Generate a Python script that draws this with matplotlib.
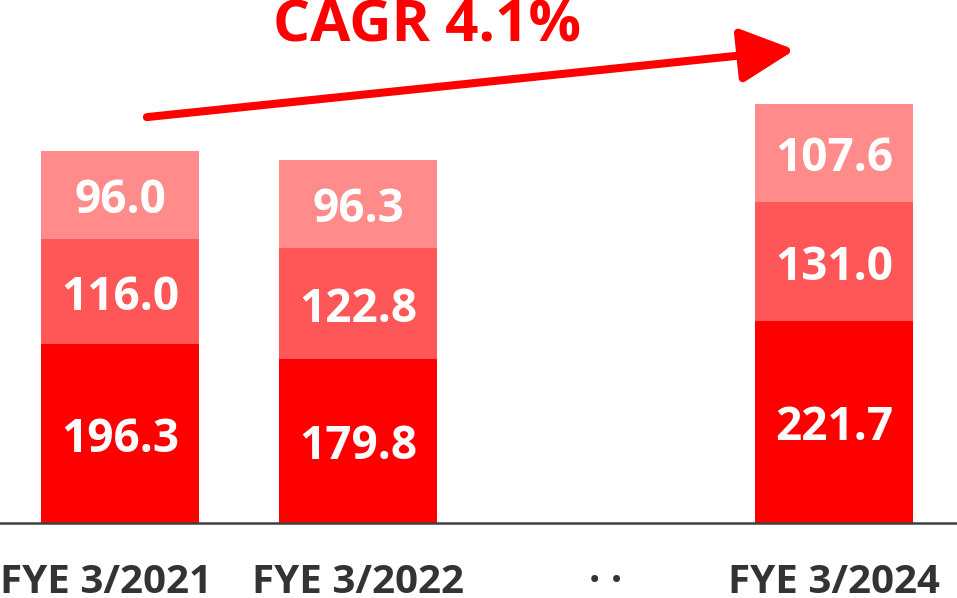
import matplotlib
matplotlib.use('Agg')
import matplotlib.pyplot as plt
import matplotlib.transforms as mtransforms
import numpy as np

# ==============================================================================
# data
# ==============================================================================
CATEGORIES = ['FYE 3/2021', 'FYE 3/2022', '· ·', 'FYE 3/2024']
BOTTOM_VALUES = [196.3, 179.8, np.nan, 221.7]
MIDDLE_VALUES = [116.0, 122.8, np.nan, 131.0]
TOP_VALUES = [96.0, 96.3, np.nan, 107.6]
CAGR_TEXT = 'CAGR 4.1%'

# ==============================================================================
# style
# ==============================================================================
FONT = ['Open Sans', 'DejaVu Sans']
COLORS = ['#FF0000', '#FF5757', '#FF8B8B']
TEXT_GRAY = '#333333'
BAR_WIDTH = 0.665

plt.rcParams['font.family'] = FONT
plt.rcParams['font.weight'] = 'bold'

fig = plt.figure(figsize=(9.57, 5.98), dpi=100)
ax = fig.add_axes([0, 0.1254, 1, 0.8746])

x = np.arange(len(CATEGORIES))
bottom = np.zeros(len(CATEGORIES))
for vals, color in zip([BOTTOM_VALUES, MIDDLE_VALUES, TOP_VALUES], COLORS):
    vals = np.array(vals, dtype=float)
    ax.bar(x, np.nan_to_num(vals), width=BAR_WIDTH, bottom=bottom,
           color=color, linewidth=0)
    for xi, v, b in zip(x, vals, bottom):
        if np.isnan(v):
            continue
        # baseline placed so the digits sit in the middle of the segment
        ax.annotate(f'{v:.1f}', xy=(xi, b + v / 2), xytext=(0, -13),
                    textcoords='offset points', ha='center', va='baseline',
                    color='white', fontsize=33, fontweight='bold')
    bottom = bottom + np.nan_to_num(vals)

ax.set_xlim(-0.504, 3.517)
ax.set_ylim(0, 574.7)

# axes cleanup
for side in ['top', 'left', 'right']:
    ax.spines[side].set_visible(False)
ax.spines['bottom'].set_color('#404040')
ax.spines['bottom'].set_linewidth(1.8)
ax.set_yticks([])
ax.set_xticks(x)
ax.set_xticklabels(CATEGORIES, fontsize=29, fontweight='bold', color=TEXT_GRAY)
ax.tick_params(axis='x', length=0, pad=29)

# small horizontal nudges to match the original label placement
for lbl, dx in zip(ax.get_xticklabels(), [-14, 0, 10, 0]):
    lbl.set_transform(lbl.get_transform() +
                      mtransforms.ScaledTranslation(dx / 100, 0, fig.dpi_scale_trans))

# growth arrow + CAGR text
ax.annotate('', xy=(2.836, 520), xytext=(0.113, 446),
            arrowprops=dict(arrowstyle='-|>,head_length=0.6,head_width=0.3',
                            color='#FF0000', lw=5.8, mutation_scale=55,
                            shrinkA=0, shrinkB=0),
            annotation_clip=False)
ax.text(0.446, 1 - 41 / 523, CAGR_TEXT, transform=ax.transAxes,
        ha='center', va='baseline', color='#FF0000', fontsize=42,
        fontweight='bold')

plt.savefig('out.png', dpi=100)
plt.close(fig)
